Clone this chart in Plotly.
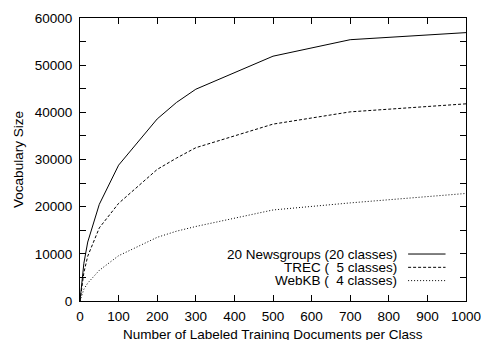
import plotly.graph_objects as go

x_vals = [0, 10, 20, 50, 100, 200, 250, 300, 500, 700, 1000]
newsgroups = [0, 8000, 12500, 20500, 28800, 38600, 42100, 44900, 51900, 55400, 56900]
trec = [0, 6000, 9500, 15500, 20700, 27900, 30300, 32500, 37500, 40100, 41800]
webkb = [0, 2500, 3800, 6500, 9600, 13500, 14800, 15800, 19300, 20800, 22800]

series_names = ["20 Newsgroups (20 classes)", "TREC (\u00a0\u00a05 classes)", "WebKB (\u00a0\u00a04 classes)"]
series_data = [newsgroups, trec, webkb]
dashes = ["solid", "3px,2px", "1px,2px"]

x_ticks = list(range(0, 1001, 100))
y_ticks = list(range(0, 60001, 5000))
y_ticktext = [str(v) if v % 10000 == 0 else "" for v in y_ticks]

font = "Liberation Sans, Arial, sans-serif"
fs = 13.5

fig = go.Figure()
for name, ys, d in zip(series_names, series_data, dashes):
    fig.add_trace(go.Scatter(x=x_vals, y=ys, mode="lines", name=name,
                             line=dict(color="black", width=1, dash=d),
                             showlegend=False))

# legend drawn gnuplot-style: right-aligned text then line sample
leg_y = [0.166, 0.119, 0.072]
for name, d, yy in zip(series_names, dashes, leg_y):
    fig.add_annotation(xref="paper", yref="paper", x=0.826, y=yy, text=name,
                       showarrow=False, xanchor="right", yanchor="middle",
                       font=dict(family=font, size=fs, color="black"))
    fig.add_shape(type="line", xref="paper", yref="paper", x0=0.85, x1=0.947,
                  y0=yy, y1=yy, line=dict(color="black", width=1, dash=d))

# x-axis title (placed like the reference, near the page's bottom edge)
fig.add_annotation(xref="paper", yref="paper", x=0.5, y=-0.118,
                   text="Number of Labeled Training Documents per Class",
                   showarrow=False, xanchor="center", yanchor="middle",
                   font=dict(family=font, size=fs, color="black"))

axis_common = dict(showline=True, linecolor="black", linewidth=1, mirror="ticks",
                   ticks="inside", ticklen=6, tickcolor="black", tickwidth=1,
                   showgrid=False, zeroline=False, automargin=False,
                   ticklabeloverflow="allow",
                   tickfont=dict(family=font, size=fs, color="black"))

fig.update_xaxes(range=[0, 1000], tickvals=x_ticks, ticktext=[str(v) for v in x_ticks],
                 ticklabelstandoff=3, **axis_common)
fig.update_yaxes(range=[0, 60000], tickvals=y_ticks, ticktext=y_ticktext,
                 title=dict(text="Vocabulary Size",
                            font=dict(family=font, size=fs, color="black"), standoff=8),
                 ticklabelstandoff=4, **axis_common)

fig.update_layout(width=481, height=340, margin=dict(l=80, r=15, t=18, b=39),
                  plot_bgcolor="white", paper_bgcolor="white")

fig.write_html("out.html")
